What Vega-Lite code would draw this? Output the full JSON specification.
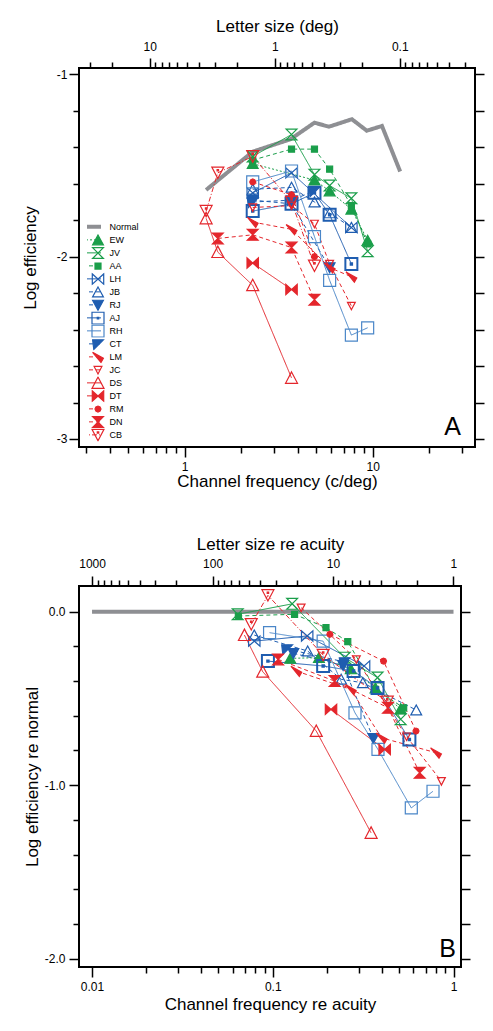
{
  "$schema": "https://vega.github.io/schema/vega-lite/v6.json",
  "padding": {"left": 20, "top": 16, "right": 5, "bottom": 5},
  "config": {
    "font": "Liberation Sans",
    "view": {"stroke": "#000", "strokeWidth": 2},
    "axis": {"grid": false, "domain": false, "tickColor": "#000", "tickWidth": 1.5, "tickSize": 10, "labelColor": "#000", "labelFontSize": 12, "titleFontSize": 17, "titleFontWeight": "normal", "titleColor": "#000", "labelFont": "Liberation Sans", "titleFont": "Liberation Sans", "labelOverlap": false, "labelFlush": false, "labelBound": false}
  },
  "datasets": {
    "a": [
      {"s": "Normal", "x": 1.3, "y": -1.634}, {"s": "Normal", "x": 2.3, "y": -1.424}, {"s": "Normal", "x": 3.65, "y": -1.356}, {"s": "Normal", "x": 4.9, "y": -1.265}, {"s": "Normal", "x": 5.85, "y": -1.287}, {"s": "Normal", "x": 7.75, "y": -1.246}, {"s": "Normal", "x": 9.3, "y": -1.309}, {"s": "Normal", "x": 11.2, "y": -1.283}, {"s": "Normal", "x": 14, "y": -1.533},
      {"s": "EW", "x": 2.3, "y": -1.49}, {"s": "EW", "x": 4.9, "y": -1.58}, {"s": "EW", "x": 5.9, "y": -1.64}, {"s": "EW", "x": 7.7, "y": -1.74}, {"s": "EW", "x": 9.4, "y": -1.91},
      {"s": "JV", "x": 2.3, "y": -1.45}, {"s": "JV", "x": 3.7, "y": -1.33}, {"s": "JV", "x": 4.9, "y": -1.55}, {"s": "JV", "x": 5.9, "y": -1.61}, {"s": "JV", "x": 7.7, "y": -1.68}, {"s": "JV", "x": 9.4, "y": -1.97},
      {"s": "AA", "x": 2.3, "y": -1.47}, {"s": "AA", "x": 3.7, "y": -1.41}, {"s": "AA", "x": 4.9, "y": -1.41}, {"s": "AA", "x": 5.9, "y": -1.52}, {"s": "AA", "x": 7.7, "y": -1.72}, {"s": "AA", "x": 9.4, "y": -1.93},
      {"s": "LH", "x": 2.3, "y": -1.65}, {"s": "LH", "x": 3.7, "y": -1.54}, {"s": "LH", "x": 7.7, "y": -1.84},
      {"s": "JB", "x": 2.3, "y": -1.63}, {"s": "JB", "x": 3.7, "y": -1.62}, {"s": "JB", "x": 4.9, "y": -1.70}, {"s": "JB", "x": 5.9, "y": -1.76}, {"s": "JB", "x": 7.7, "y": -1.84},
      {"s": "RJ", "x": 2.3, "y": -1.69}, {"s": "RJ", "x": 3.7, "y": -1.71}, {"s": "RJ", "x": 5.9, "y": -2.06},
      {"s": "AJ", "x": 2.3, "y": -1.75}, {"s": "AJ", "x": 3.7, "y": -1.71}, {"s": "AJ", "x": 4.9, "y": -1.65}, {"s": "AJ", "x": 5.9, "y": -1.77}, {"s": "AJ", "x": 7.7, "y": -2.04},
      {"s": "RH", "x": 2.3, "y": -1.59}, {"s": "RH", "x": 3.7, "y": -1.53}, {"s": "RH", "x": 4.9, "y": -1.89}, {"s": "RH", "x": 5.9, "y": -2.13}, {"s": "RH", "x": 7.7, "y": -2.43}, {"s": "RH", "x": 9.4, "y": -2.39},
      {"s": "CT", "x": 2.3, "y": -1.70}, {"s": "CT", "x": 3.7, "y": -1.69}, {"s": "CT", "x": 4.9, "y": -1.64},
      {"s": "LM", "x": 2.3, "y": -1.81}, {"s": "LM", "x": 3.7, "y": -1.85}, {"s": "LM", "x": 5.9, "y": -2.06}, {"s": "LM", "x": 7.7, "y": -2.11},
      {"s": "JC", "x": 2.3, "y": -1.73}, {"s": "JC", "x": 3.7, "y": -1.72}, {"s": "JC", "x": 4.9, "y": -1.82}, {"s": "JC", "x": 5.9, "y": -2.04}, {"s": "JC", "x": 7.7, "y": -2.27},
      {"s": "DS", "x": 1.3, "y": -1.79}, {"s": "DS", "x": 1.5, "y": -1.975}, {"s": "DS", "x": 2.3, "y": -2.157}, {"s": "DS", "x": 3.7, "y": -2.665},
      {"s": "DT", "x": 2.3, "y": -2.035}, {"s": "DT", "x": 3.7, "y": -2.18},
      {"s": "RM", "x": 2.3, "y": -1.59}, {"s": "RM", "x": 3.7, "y": -1.66}, {"s": "RM", "x": 4.9, "y": -2.0},
      {"s": "DN", "x": 1.5, "y": -1.90}, {"s": "DN", "x": 2.3, "y": -1.88}, {"s": "DN", "x": 3.7, "y": -1.95}, {"s": "DN", "x": 4.9, "y": -2.236},
      {"s": "CB", "x": 1.3, "y": -1.75}, {"s": "CB", "x": 1.5, "y": -1.54}, {"s": "CB", "x": 2.3, "y": -1.45}, {"s": "CB", "x": 3.7, "y": -1.70}, {"s": "CB", "x": 4.9, "y": -2.05}
    ],
    "b": [
      {"s": "Normal", "x": 0.01, "y": 0}, {"s": "Normal", "x": 1, "y": 0},
      {"s": "EW", "x": 0.125, "y": -0.269}, {"s": "EW", "x": 0.18, "y": -0.265}, {"s": "EW", "x": 0.27, "y": -0.33}, {"s": "EW", "x": 0.37, "y": -0.44}, {"s": "EW", "x": 0.51, "y": -0.56},
      {"s": "JV", "x": 0.064, "y": -0.015}, {"s": "JV", "x": 0.128, "y": 0.045}, {"s": "JV", "x": 0.25, "y": -0.265}, {"s": "JV", "x": 0.38, "y": -0.38}, {"s": "JV", "x": 0.51, "y": -0.62},
      {"s": "AA", "x": 0.0645, "y": -0.025}, {"s": "AA", "x": 0.132, "y": -0.015}, {"s": "AA", "x": 0.197, "y": -0.092}, {"s": "AA", "x": 0.26, "y": -0.173}, {"s": "AA", "x": 0.37, "y": -0.448}, {"s": "AA", "x": 0.53, "y": -0.554},
      {"s": "LH", "x": 0.079, "y": -0.17}, {"s": "LH", "x": 0.155, "y": -0.14}, {"s": "LH", "x": 0.32, "y": -0.313},
      {"s": "JB", "x": 0.079, "y": -0.135}, {"s": "JB", "x": 0.156, "y": -0.227}, {"s": "JB", "x": 0.239, "y": -0.39}, {"s": "JB", "x": 0.315, "y": -0.41}, {"s": "JB", "x": 0.622, "y": -0.567},
      {"s": "RJ", "x": 0.13, "y": -0.24}, {"s": "RJ", "x": 0.245, "y": -0.31}, {"s": "RJ", "x": 0.36, "y": -0.73},
      {"s": "AJ", "x": 0.094, "y": -0.285}, {"s": "AJ", "x": 0.19, "y": -0.313}, {"s": "AJ", "x": 0.28, "y": -0.342}, {"s": "AJ", "x": 0.38, "y": -0.44}, {"s": "AJ", "x": 0.57, "y": -0.737},
      {"s": "RH", "x": 0.096, "y": -0.121}, {"s": "RH", "x": 0.19, "y": -0.17}, {"s": "RH", "x": 0.285, "y": -0.583}, {"s": "RH", "x": 0.382, "y": -0.794}, {"s": "RH", "x": 0.584, "y": -1.131}, {"s": "RH", "x": 0.77, "y": -1.035},
      {"s": "CT", "x": 0.12, "y": -0.215}, {"s": "CT", "x": 0.25, "y": -0.29},
      {"s": "LM", "x": 0.135, "y": -0.342}, {"s": "LM", "x": 0.27, "y": -0.448}, {"s": "LM", "x": 0.40, "y": -0.727}, {"s": "LM", "x": 0.80, "y": -0.813},
      {"s": "JC", "x": 0.1435, "y": 0.023}, {"s": "JC", "x": 0.29, "y": -0.275}, {"s": "JC", "x": 0.55, "y": -0.72}, {"s": "JC", "x": 0.857, "y": -0.977},
      {"s": "DS", "x": 0.0697, "y": -0.135}, {"s": "DS", "x": 0.088, "y": -0.346}, {"s": "DS", "x": 0.174, "y": -0.688}, {"s": "DS", "x": 0.35, "y": -1.275},
      {"s": "DT", "x": 0.21, "y": -0.563}, {"s": "DT", "x": 0.416, "y": -0.794},
      {"s": "RM", "x": 0.207, "y": -0.13}, {"s": "RM", "x": 0.41, "y": -0.285}, {"s": "RM", "x": 0.62, "y": -0.688},
      {"s": "DN", "x": 0.107, "y": -0.275}, {"s": "DN", "x": 0.22, "y": -0.40}, {"s": "DN", "x": 0.434, "y": -0.554}, {"s": "DN", "x": 0.65, "y": -0.929},
      {"s": "CB", "x": 0.076, "y": -0.073}, {"s": "CB", "x": 0.094, "y": 0.094}, {"s": "CB", "x": 0.19, "y": -0.25}, {"s": "CB", "x": 0.43, "y": -0.52}
    ]
  },
  "spacing": 44,
  "resolve": {
    "scale": {"color": "independent", "strokeDash": "independent", "shape": "independent", "fill": "independent", "stroke": "independent"},
    "legend": {"color": "independent", "strokeDash": "independent", "shape": "independent", "fill": "independent", "stroke": "independent"}
  },
  "vconcat": [
    {
      "width": 396,
      "height": 379,
      "resolve": {"scale": {"x": "independent", "y": "independent"}},
      "layer": [
        {
          "data": {"name": "a"},
          "layer": [
            {
              "mark": {"type": "line", "clip": true},
              "encoding": {
                "x": {"field": "x", "type": "quantitative", "scale": {"type": "log", "domain": [0.274, 35], "nice": false},
                  "axis": {"orient": "bottom", "title": "Channel frequency (c/deg)", "values": [1, 10], "labelExpr": "datum.value == 1 ? '1' : '10'", "labelPadding": 4, "titlePadding": 1}},
                "y": {"field": "y", "type": "quantitative", "scale": {"domain": [-3.044, -0.965], "nice": false, "zero": false},
                  "axis": {"orient": "left", "title": "Log efficiency", "values": [-3, -2, -1], "labelExpr": "toString(round(datum.value))", "labelPadding": 2, "titlePadding": 17}},
                "color": {"field": "s", "type": "nominal",
                  "scale": {"domain": ["Normal", "EW", "JV", "AA", "LH", "JB", "RJ", "AJ", "RH", "CT", "LM", "JC", "DS", "DT", "RM", "DN", "CB"],
                    "range": ["#8e8f93", "#1a9e4a", "#1a9e4a", "#1a9e4a", "#1f5db0", "#1f5db0", "#1f5db0", "#1f5db0", "#4a86c8", "#1f5db0", "#e4262c", "#e4262c", "#e4262c", "#e4262c", "#e4262c", "#e4262c", "#e4262c"]},
                  "legend": {"orient": "none", "legendX": 8, "legendY": 152.4, "title": null, "symbolType": "stroke", "symbolSize": 361, "symbolStrokeWidth": 1, "labelFontSize": 9, "labelOffset": 13.5, "clipHeight": 12.93, "rowPadding": 0, "padding": 0, "labelColor": "#000", "labelFont": "Liberation Sans", "encode": {"symbols": {"update": {"strokeWidth": {"signal": "datum.value === 'Normal' ? 4 : 1"}}}}}},
                "strokeDash": {"field": "s", "type": "nominal",
                  "scale": {"domain": ["Normal", "EW", "JV", "AA", "LH", "JB", "RJ", "AJ", "RH", "CT", "LM", "JC", "DS", "DT", "RM", "DN", "CB"],
                    "range": [[1, 0], [2, 2], [1, 0], [4, 3], [1, 0], [4, 3], [4, 3], [1, 0], [1, 0], [4, 3], [4, 3], [4, 3], [1, 0], [1, 0], [4, 3], [4, 3], [5, 2, 1, 2]]},
                  "legend": {"orient": "none", "legendX": 8, "legendY": 152.4, "title": null, "symbolType": "stroke", "symbolSize": 361, "symbolStrokeWidth": 1, "labelFontSize": 9, "labelOffset": 13.5, "clipHeight": 12.93, "rowPadding": 0, "padding": 0, "labelColor": "#000", "labelFont": "Liberation Sans", "encode": {"symbols": {"update": {"strokeWidth": {"signal": "datum.value === 'Normal' ? 4 : 1"}}}}}},
                "strokeWidth": {"condition": {"test": "datum.s === 'Normal'", "value": 4}, "value": 1}
              }
            },
            {
              "transform": [{"filter": "datum.s !== 'Normal'"}],
              "mark": {"type": "point", "opacity": 1, "size": 144, "clip": true},
              "encoding": {
                "x": {"field": "x", "type": "quantitative"},
                "y": {"field": "y", "type": "quantitative"},
                "shape": {"field": "s", "type": "nominal",
                  "scale": {"domain": ["EW", "JV", "AA", "LH", "JB", "RJ", "AJ", "RH", "CT", "LM", "JC", "DS", "DT", "RM", "DN", "CB"],
                    "range": ["M0,-0.85L0.9,0.8L-0.9,0.8Z", "M-0.9,-0.9L0.9,-0.9L-0.9,0.9L0.9,0.9Z", "M-0.5,-0.5H0.5V0.5H-0.5Z", "M-0.95,-0.85L-0.95,0.85L0.95,-0.85L0.95,0.85Z", "M0,-0.85L0.9,0.8L-0.9,0.8Z", "M-0.9,-0.8L0.9,-0.8L0,0.85Z", "M-1,-1H1V1H-1Z M-0.12,-0.12H0.12V0.12H-0.12Z", "M-1,-1H1V1H-1Z", "M-0.9,-0.7L0.9,-0.7L-0.7,0.9Z", "M-0.9,-0.8L0.9,0.2L0.5,0.9Z", "M-0.65,-0.6L0.65,-0.6L0,0.65Z", "M0,-1L1,0.9L-1,0.9Z", "M-0.95,-0.85L-0.95,0.85L0.95,-0.85L0.95,0.85Z", "M0.5,0L0.35,0.35L0,0.5L-0.35,0.35L-0.5,0L-0.35,-0.35L0,-0.5L0.35,-0.35Z", "M-0.9,-0.9L0.9,-0.9L-0.9,0.9L0.9,0.9Z", "M-1,-0.95L1,-0.95L0,0.95Z M-0.12,-0.55H0.12V-0.31H-0.12Z"]},
                  "legend": {"orient": "none", "legendX": 12, "legendY": 165.6, "title": null, "symbolSize": 144, "symbolStrokeWidth": 1.2, "symbolOpacity": 1, "labelExpr": "''", "clipHeight": 12.93, "rowPadding": 0, "padding": 0, "encode": {"symbols": {"update": {"strokeWidth": {"signal": "datum.value === 'AJ' ? 2 : 1.2"}}}}}},
                "fill": {"field": "s", "type": "nominal",
                  "scale": {"domain": ["EW", "JV", "AA", "LH", "JB", "RJ", "AJ", "RH", "CT", "LM", "JC", "DS", "DT", "RM", "DN", "CB"],
                    "range": ["#1a9e4a", "transparent", "#1a9e4a", "transparent", "transparent", "#1f5db0", "transparent", "transparent", "#1f5db0", "#e4262c", "transparent", "transparent", "#e4262c", "#e4262c", "#e4262c", "transparent"]},
                  "legend": {"orient": "none", "legendX": 12, "legendY": 165.6, "title": null, "symbolSize": 144, "symbolStrokeWidth": 1.2, "symbolOpacity": 1, "labelExpr": "''", "clipHeight": 12.93, "rowPadding": 0, "padding": 0}},
                "stroke": {"field": "s", "type": "nominal",
                  "scale": {"domain": ["EW", "JV", "AA", "LH", "JB", "RJ", "AJ", "RH", "CT", "LM", "JC", "DS", "DT", "RM", "DN", "CB"],
                    "range": ["#1a9e4a", "#1a9e4a", "#1a9e4a", "#1f5db0", "#1f5db0", "#1f5db0", "#1f5db0", "#4a86c8", "#1f5db0", "#e4262c", "#e4262c", "#e4262c", "#e4262c", "#e4262c", "#e4262c", "#e4262c"]},
                  "legend": {"orient": "none", "legendX": 12, "legendY": 165.6, "title": null, "symbolSize": 144, "symbolStrokeWidth": 1.2, "symbolOpacity": 1, "labelExpr": "''", "clipHeight": 12.93, "rowPadding": 0, "padding": 0}},
                "strokeWidth": {"condition": {"test": "datum.s === 'AJ'", "value": 2}, "value": 1.2}
              }
            },
            {
              "data": {"values": [{"label": "A"}]},
              "mark": {"type": "text", "fontSize": 25, "align": "right", "baseline": "alphabetic", "color": "#000"},
              "encoding": {
                "x": {"datum": 29.5},
                "y": {"datum": -2.98},
                "text": {"field": "label", "type": "nominal"}
              }
            }
          ]
        },
        {
          "data": {"name": "a"},
          "mark": {"type": "point", "opacity": 0},
          "encoding": {
            "x": {"field": "x", "type": "quantitative", "scale": {"type": "log", "domain": [0.025, 36.8], "reverse": true, "nice": false},
              "axis": {"orient": "top", "title": "Letter size (deg)", "values": [10, 1, 0.1], "labelExpr": "datum.value == 10 ? '10' : datum.value == 1 ? '1' : '0.1'", "labelPadding": 4.3, "titlePadding": 5}},
            "y": {"field": "y", "type": "quantitative", "scale": {"domain": [-3.044, -0.965], "nice": false, "zero": false},
              "axis": {"orient": "right", "title": null, "labels": false, "tickSize": 9, "values": [-3, -2.8, -2.6, -2.4, -2.2, -2, -1.8, -1.6, -1.4, -1.2, -1]}}
          }
        },
        {
          "data": {"name": "a"},
          "mark": {"type": "point", "opacity": 0},
          "encoding": {
            "x": {"field": "x", "type": "quantitative", "scale": {"type": "log", "domain": [0.274, 35], "nice": false},
              "axis": {"orient": "bottom", "title": null, "labels": false, "tickSize": 6, "values": [0.3, 0.4, 0.5, 0.6, 0.7, 0.8, 0.9, 2, 3, 4, 5, 6, 7, 8, 9, 20, 30]}},
            "y": {"field": "y", "type": "quantitative", "scale": {"domain": [-3.044, -0.965], "nice": false, "zero": false},
              "axis": {"orient": "left", "title": null, "labels": false, "tickSize": 6, "values": [-2.8, -2.6, -2.4, -2.2, -1.8, -1.6, -1.4, -1.2]}}
          }
        },
        {
          "data": {"name": "a"},
          "mark": {"type": "point", "opacity": 0},
          "encoding": {
            "x": {"field": "x", "type": "quantitative", "scale": {"type": "log", "domain": [0.025, 36.8], "reverse": true, "nice": false},
              "axis": {"orient": "top", "title": null, "labels": false, "tickSize": 6, "values": [30, 20, 9, 8, 7, 6, 5, 4, 3, 2, 0.9, 0.8, 0.7, 0.6, 0.5, 0.4, 0.3, 0.2, 0.09, 0.08, 0.07, 0.06, 0.05, 0.04, 0.03]}},
            "y": {"field": "y", "type": "quantitative", "scale": {"domain": [-3.044, -0.965], "nice": false, "zero": false}, "axis": null}
          }
        }
      ]
    },
    {
      "width": 382,
      "height": 381,
      "resolve": {"scale": {"x": "independent", "y": "independent"}},
      "layer": [
        {
          "data": {"name": "b"},
          "layer": [
            {
              "mark": {"type": "line", "clip": true},
              "encoding": {
                "x": {"field": "x", "type": "quantitative", "scale": {"type": "log", "domain": [0.00847, 1.1], "nice": false},
                  "axis": {"orient": "bottom", "title": "Channel frequency re acuity", "values": [0.01, 0.1, 1], "labelExpr": "datum.value == 0.01 ? '0.01' : datum.value == 0.1 ? '0.1' : '1'", "labelPadding": 4, "titlePadding": 4}},
                "y": {"field": "y", "type": "quantitative", "scale": {"domain": [-2.048, 0.148], "nice": false, "zero": false},
                  "axis": {"orient": "left", "title": "Log efficiency  re normal", "values": [-2, -1, 0], "labelExpr": "(datum.value < -0.5 ? '-' : '') + format(abs(datum.value), '.1f')", "labelPadding": 4, "titlePadding": 3}},
                "color": {"field": "s", "type": "nominal",
                  "scale": {"domain": ["Normal", "EW", "JV", "AA", "LH", "JB", "RJ", "AJ", "RH", "CT", "LM", "JC", "DS", "DT", "RM", "DN", "CB"],
                    "range": ["#8e8f93", "#1a9e4a", "#1a9e4a", "#1a9e4a", "#1f5db0", "#1f5db0", "#1f5db0", "#1f5db0", "#4a86c8", "#1f5db0", "#e4262c", "#e4262c", "#e4262c", "#e4262c", "#e4262c", "#e4262c", "#e4262c"]},
                  "legend": null},
                "strokeDash": {"field": "s", "type": "nominal",
                  "scale": {"domain": ["Normal", "EW", "JV", "AA", "LH", "JB", "RJ", "AJ", "RH", "CT", "LM", "JC", "DS", "DT", "RM", "DN", "CB"],
                    "range": [[1, 0], [2, 2], [1, 0], [4, 3], [1, 0], [4, 3], [4, 3], [1, 0], [1, 0], [4, 3], [4, 3], [4, 3], [1, 0], [1, 0], [4, 3], [4, 3], [5, 2, 1, 2]]},
                  "legend": null},
                "strokeWidth": {"condition": {"test": "datum.s === 'Normal'", "value": 4}, "value": 1}
              }
            },
            {
              "transform": [{"filter": "datum.s !== 'Normal'"}],
              "mark": {"type": "point", "opacity": 1, "size": 144, "clip": true},
              "encoding": {
                "x": {"field": "x", "type": "quantitative"},
                "y": {"field": "y", "type": "quantitative"},
                "shape": {"field": "s", "type": "nominal",
                  "scale": {"domain": ["EW", "JV", "AA", "LH", "JB", "RJ", "AJ", "RH", "CT", "LM", "JC", "DS", "DT", "RM", "DN", "CB"],
                    "range": ["M0,-0.85L0.9,0.8L-0.9,0.8Z", "M-0.9,-0.9L0.9,-0.9L-0.9,0.9L0.9,0.9Z", "M-0.5,-0.5H0.5V0.5H-0.5Z", "M-0.95,-0.85L-0.95,0.85L0.95,-0.85L0.95,0.85Z", "M0,-0.85L0.9,0.8L-0.9,0.8Z", "M-0.9,-0.8L0.9,-0.8L0,0.85Z", "M-1,-1H1V1H-1Z M-0.12,-0.12H0.12V0.12H-0.12Z", "M-1,-1H1V1H-1Z", "M-0.9,-0.7L0.9,-0.7L-0.7,0.9Z", "M-0.9,-0.8L0.9,0.2L0.5,0.9Z", "M-0.65,-0.6L0.65,-0.6L0,0.65Z", "M0,-1L1,0.9L-1,0.9Z", "M-0.95,-0.85L-0.95,0.85L0.95,-0.85L0.95,0.85Z", "M0.5,0L0.35,0.35L0,0.5L-0.35,0.35L-0.5,0L-0.35,-0.35L0,-0.5L0.35,-0.35Z", "M-0.9,-0.9L0.9,-0.9L-0.9,0.9L0.9,0.9Z", "M-1,-0.95L1,-0.95L0,0.95Z M-0.12,-0.55H0.12V-0.31H-0.12Z"]},
                  "legend": null},
                "fill": {"field": "s", "type": "nominal",
                  "scale": {"domain": ["EW", "JV", "AA", "LH", "JB", "RJ", "AJ", "RH", "CT", "LM", "JC", "DS", "DT", "RM", "DN", "CB"],
                    "range": ["#1a9e4a", "transparent", "#1a9e4a", "transparent", "transparent", "#1f5db0", "transparent", "transparent", "#1f5db0", "#e4262c", "transparent", "transparent", "#e4262c", "#e4262c", "#e4262c", "transparent"]},
                  "legend": null},
                "stroke": {"field": "s", "type": "nominal",
                  "scale": {"domain": ["EW", "JV", "AA", "LH", "JB", "RJ", "AJ", "RH", "CT", "LM", "JC", "DS", "DT", "RM", "DN", "CB"],
                    "range": ["#1a9e4a", "#1a9e4a", "#1a9e4a", "#1f5db0", "#1f5db0", "#1f5db0", "#1f5db0", "#4a86c8", "#1f5db0", "#e4262c", "#e4262c", "#e4262c", "#e4262c", "#e4262c", "#e4262c", "#e4262c"]},
                  "legend": null},
                "strokeWidth": {"condition": {"test": "datum.s === 'AJ'", "value": 2}, "value": 1.2}
              }
            },
            {
              "data": {"values": [{"label": "B"}]},
              "mark": {"type": "text", "fontSize": 25, "align": "right", "baseline": "alphabetic", "color": "#000"},
              "encoding": {
                "x": {"datum": 1.03},
                "y": {"datum": -1.99},
                "text": {"field": "label", "type": "nominal"}
              }
            }
          ]
        },
        {
          "data": {"name": "b"},
          "mark": {"type": "point", "opacity": 0},
          "encoding": {
            "x": {"field": "x", "type": "quantitative", "scale": {"type": "log", "domain": [0.865, 1285], "reverse": true, "nice": false},
              "axis": {"orient": "top", "title": "Letter size re acuity", "values": [1000, 100, 10, 1], "labelExpr": "datum.value == 1000 ? '1000' : datum.value == 100 ? '100' : datum.value == 10 ? '10' : '1'", "labelPadding": 6, "titlePadding": 4}},
            "y": {"field": "y", "type": "quantitative", "scale": {"domain": [-2.048, 0.148], "nice": false, "zero": false},
              "axis": {"orient": "right", "title": null, "labels": false, "tickSize": 9, "values": [-2, -1.8, -1.6, -1.4, -1.2, -1, -0.8, -0.6, -0.4, -0.2, 0]}}
          }
        },
        {
          "data": {"name": "b"},
          "mark": {"type": "point", "opacity": 0},
          "encoding": {
            "x": {"field": "x", "type": "quantitative", "scale": {"type": "log", "domain": [0.00847, 1.1], "nice": false},
              "axis": {"orient": "bottom", "title": null, "labels": false, "tickSize": 6, "values": [0.02, 0.03, 0.04, 0.05, 0.06, 0.07, 0.08, 0.09, 0.2, 0.3, 0.4, 0.5, 0.6, 0.7, 0.8, 0.9]}},
            "y": {"field": "y", "type": "quantitative", "scale": {"domain": [-2.048, 0.148], "nice": false, "zero": false},
              "axis": {"orient": "left", "title": null, "labels": false, "tickSize": 6, "values": [-1.8, -1.6, -1.4, -1.2, -0.8, -0.6, -0.4, -0.2]}}
          }
        },
        {
          "data": {"name": "b"},
          "mark": {"type": "point", "opacity": 0},
          "encoding": {
            "x": {"field": "x", "type": "quantitative", "scale": {"type": "log", "domain": [0.865, 1285], "reverse": true, "nice": false},
              "axis": {"orient": "top", "title": null, "labels": false, "tickSize": 6, "values": [900, 800, 700, 600, 500, 400, 300, 200, 90, 80, 70, 60, 50, 40, 30, 20, 9, 8, 7, 6, 5, 4, 3, 2]}},
            "y": {"field": "y", "type": "quantitative", "scale": {"domain": [-2.048, 0.148], "nice": false, "zero": false}, "axis": null}
          }
        }
      ]
    }
  ]
}
